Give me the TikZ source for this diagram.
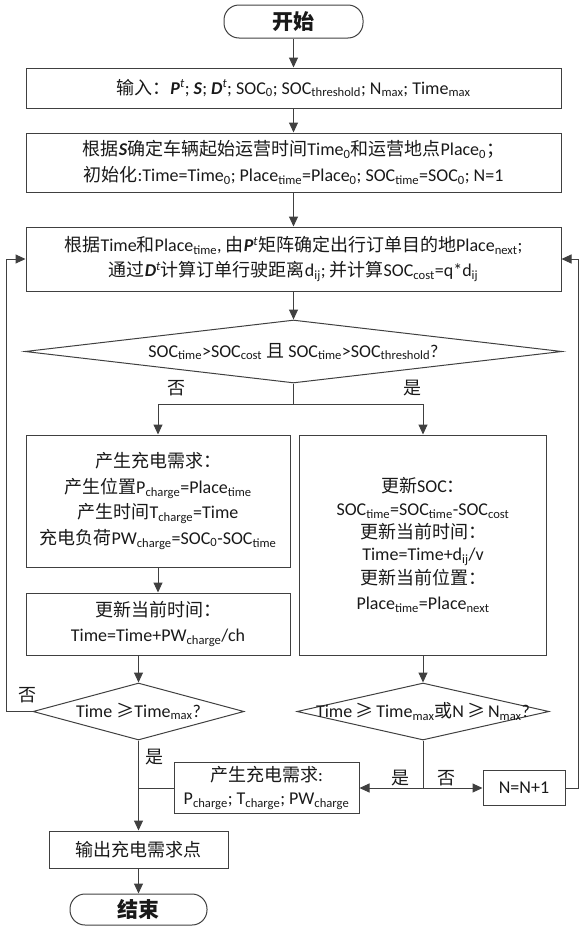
\documentclass[tikz,border=0pt]{standalone}
\usepackage{fontspec}
\setmainfont{Carlito}
\newfontfamily\cjk{Noto Sans CJK SC}
\usetikzlibrary{arrows.meta,shapes.geometric}
\newcommand\zh[1]{{\cjk #1}}
\newcommand\tsb[1]{\textsubscript{#1}}
\newcommand\bi[1]{\textbf{\textit{#1}}}
\begin{document}
\begin{tikzpicture}[x=1pt,y=-1pt,
  every node/.style={font=\fontsize{18}{25.5}\selectfont, text=black!90},
  box/.style={draw=black!75, line width=1pt, inner sep=0pt, align=center},
  term/.style={box, rounded corners=15pt, font=\fontsize{21}{22}\selectfont\bfseries},
  dia/.style={draw=black!75, line width=1pt, diamond, inner sep=0pt},
  arr/.style={draw=black!75, line width=1pt, -{Triangle[length=10pt,width=9pt]}},
  ln/.style={draw=black!75, line width=1pt},
  lbl/.style={inner sep=0pt}]
\useasboundingbox (0,0) rectangle (580,929);
% main column
\node[term, minimum width=139pt, minimum height=33pt] (start) at (293.5,21.5) {\zh{开始}};
\node[box, minimum width=535pt, minimum height=40pt] (in1) at (293.5,88)
  {\zh{输入：}\bi{P}\textsuperscript{\textit{t}}; \bi{S}; \bi{D}\textsuperscript{\textit{t}}; SOC\tsb{0}; SOC\tsb{threshold}; N\tsb{max}; Time\tsb{max}};
\node[box, minimum width=535pt, minimum height=59pt] (b2) at (293.5,162.5)
  {\zh{根据}\bi{S}\zh{确定车辆起始运营时间}Time\tsb{0}\zh{和运营地点}Place\tsb{0}\zh{；}\\
   \zh{初始化}:Time=Time\tsb{0}; Place\tsb{time}=Place\tsb{0}; SOC\tsb{time}=SOC\tsb{0}; N=1};
\node[box, minimum width=535pt, minimum height=64pt] (b3) at (293.5,259)
  {\zh{根据}Time\zh{和}Place\tsb{time}, \zh{由}\bi{P}\textsuperscript{\textit{t}}\zh{矩阵确定出行订单目的地}Place\tsb{next};\\
   \zh{通过}\bi{D}\textsuperscript{\textit{t}}\zh{计算订单行驶距离}d\tsb{ij}; \zh{并计算}SOC\tsb{cost}=q*d\tsb{ij}};
\node[dia, minimum width=537pt, minimum height=63pt] (d1) at (293.5,351.5) {};
\node[lbl] (d1t) at (d1.center) {SOC\tsb{time}>SOC\tsb{cost} \zh{且} SOC\tsb{time}>SOC\tsb{threshold}?};
% left column
\node[box, minimum width=264pt, minimum height=132pt] (bA) at (158,501)
  {\zh{产生充电需求：}\\
   \zh{产生位置}P\tsb{charge}=Place\tsb{time}\\
   \zh{产生时间}T\tsb{charge}=Time\\
   \zh{充电负荷}PW\tsb{charge}=SOC\tsb{0}-SOC\tsb{time}};
\node[box, minimum width=264pt, minimum height=62pt] (bB) at (158,624)
  {\zh{更新当前时间：}\\ Time=Time+PW\tsb{charge}/ch};
\node[dia, minimum width=211pt, minimum height=57pt] (d2L) at (138.5,711.5) {};
\node[lbl] (d2Lt) at (d2L.center) {Time \zh{≥}Time\tsb{max}?};
\node[box, minimum width=179pt, minimum height=37pt] (out) at (138.5,849.5) {\zh{输出充电需求点}};
\node[term, minimum width=137pt, minimum height=31pt] (end) at (138.5,909.5) {\zh{结束}};
% right column
\node[box, minimum width=247pt, minimum height=220pt] (bC) at (423,545)
  {\zh{更新}SOC\zh{：}\\[-2pt]
   SOC\tsb{time}=SOC\tsb{time}-SOC\tsb{cost}\\[-3pt]
   \zh{更新当前时间：}\\[-3pt]
   Time=Time+d\tsb{ij}/v\\[-2pt]
   \zh{更新当前位置：}\\
   Place\tsb{time}=Place\tsb{next}};
\node[dia, minimum width=252pt, minimum height=57pt] (d2R) at (423,711.5) {};
\node[lbl] (d2Rt) at (d2R.center) {Time\,\zh{≥}\,Time\tsb{max}\zh{或}N\,\zh{≥}\,N\tsb{max}?};
\node[box, minimum width=185pt, minimum height=51pt] (sbox) at (266.5,788)
  {\zh{产生充电需求}:\\[-3pt] P\tsb{charge}; T\tsb{charge}; PW\tsb{charge}};
\node[box, minimum width=82pt, minimum height=35pt] (nbox) at (524,788) {N=N+1};
% coordinates
\coordinate (sp) at (293.5,404);
\coordinate (rj) at (423,788);
\coordinate (lft) at (6,259);
\coordinate (rgt) at (578.5,259);
% connectors
\draw[arr] (start) -- (in1);
\draw[arr] (in1) -- (b2);
\draw[arr] (b2) -- (b3);
\draw[arr] (b3) -- (d1);
\draw[ln] (d1.south) -- (sp);
\draw[arr] (sp) -| (bA.north);
\draw[arr] (sp) -| (bC.north);
\draw[arr] (bA) -- (bB);
\draw[arr] (bB.south -| d2L) -- (d2L.north);
\draw[arr] (bC) -- (d2R);
\draw[arr] (d2L.west) -| (lft) -- (b3.west);
\draw[arr] (d2L.south) -- (out.north);
\draw[ln] (sbox.west) -- (sbox.west -| d2L);
\draw[ln] (d2R.south) -- (rj);
\draw[arr] (rj) -- (sbox.east);
\draw[arr] (rj) -- (nbox.west);
\draw[arr] (nbox.east) -| (rgt) -- (b3.east);
\draw[arr] (out) -- (end);
% labels
\node[lbl] (l1) at (176,388) {\zh{否}};
\node[lbl] (l2) at (412,388) {\zh{是}};
\node[lbl] (l3) at (28,695) {\zh{否}};
\node[lbl] (l4) at (154,757) {\zh{是}};
\node[lbl] (l5) at (400,778) {\zh{是}};
\node[lbl] (l6) at (446,778) {\zh{否}};
\end{tikzpicture}
\end{document}
